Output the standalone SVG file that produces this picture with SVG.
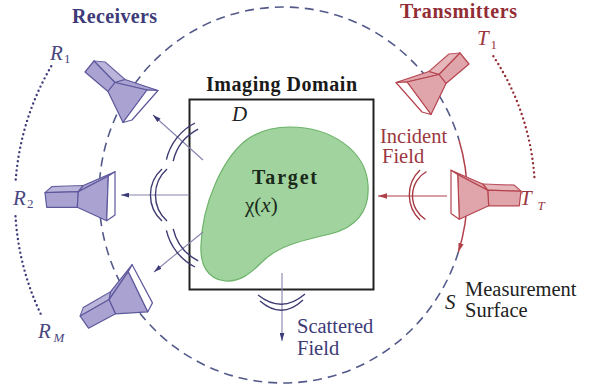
<svg xmlns="http://www.w3.org/2000/svg" xmlns:xlink="http://www.w3.org/1999/xlink" width="589" height="389" viewBox="0 0 589 389" font-family="'Liberation Serif', 'Times New Roman', serif">
  <style>
    text { font-family: "Liberation Serif", "Times New Roman", serif; }
    .title { font-weight: bold; font-size: 20px; }
    .body { font-size: 20.5px; }
    .it { font-style: italic; font-size: 21px; }
    .sub { font-size: 13px; }
    .rx { fill: #3d3b78; }
    .rl { fill: #4a4880; }
    .tx { fill: #922d34; }
    .tl { fill: #9b3840; }
    .ink { fill: #222; }
    .horn-r { fill: #aaa3d2; stroke: #5d589b; stroke-width: 1.2; stroke-linejoin: round; }
    .horn-t { fill: #e0a5aa; stroke: #b5444f; stroke-width: 1.2; stroke-linejoin: round; }
    .surface { fill: none; stroke: #535a8a; stroke-width: 1.6; stroke-dasharray: 9 6; }
    .dots-r { fill: none; stroke: #3d3b78; stroke-width: 2.4; stroke-linecap: round; stroke-dasharray: 0 4.6; }
    .dots-t { fill: none; stroke: #922d34; stroke-width: 2.4; stroke-linecap: round; stroke-dasharray: 0 4.6; }
    .wave { fill: none; stroke: #3d3b70; stroke-width: 1.4; }
    .wave-t { fill: none; stroke: #a83a44; stroke-width: 1.4; }
    .ray { fill: none; stroke: #8583ae; stroke-width: 1.1; }
    .ray-t { fill: none; stroke: #b0404a; stroke-width: 1.2; }
  </style>
  <defs>
    <marker id="ah" viewBox="0 0 10 6" refX="10" refY="3" markerWidth="8" markerHeight="5" markerUnits="userSpaceOnUse" orient="auto">
      <path d="M0,0 L10,3 L0,6 z" fill="#3d3b78"/>
    </marker>
    <marker id="ah-t" viewBox="0 0 10 6" refX="10" refY="3" markerWidth="9" markerHeight="6" markerUnits="userSpaceOnUse" orient="auto">
      <path d="M0,0 L10,3 L0,6 z" fill="#b0404a"/>
    </marker>
    <!-- pyramidal horn, oblique view (feed upper-left, aperture lower-right) -->
    <g id="hornA">
      <polygon points="94,61 105,62 125,79.5 115,82.5"/>
      <polygon points="94,61 105,62 125,79.5 115,82.5" fill="#fff" fill-opacity="0.2" stroke="none"/>
      <polygon points="85,72 94,61 115,82.5 108,91.5"/>
      <polygon points="115,82.5 125,79.5 158,90.5 147,90"/>
      <polygon points="108,91.5 115,82.5 147,90 123,122.5"/>
      <polygon points="147,90 158,90.5 132,120 123,122.5" fill="#fff"/>
    </g>
    <!-- pyramidal horn, side view (feed left, aperture right) -->
    <g id="hornB">
      <polygon points="45,192.7 51.7,186.7 83.3,185.5 78.3,191.7"/>
      <polygon points="45,192.7 51.7,186.7 83.3,185.5 78.3,191.7" fill="#fff" fill-opacity="0.2" stroke="none"/>
      <polygon points="45,192.7 78.3,191.7 77.3,207.3 46.7,207.3"/>
      <polygon points="78.3,191.7 83.3,185.5 115,171.7 108.3,176"/>
      <polygon points="78.3,191.7 108.3,176 106.7,220.7 77.3,207.3"/>
      <polygon points="108.3,176 115,171.7 115,215 106.7,220.7" fill="#fff"/>
    </g>
  </defs>

  <rect width="589" height="389" fill="#fff"/>

  <!-- measurement surface S -->
  <g id="surface">
    <path class="surface" d="M458.4,252 A184,188 0 1,1 459,140"/>
  </g>

  <!-- receiver / transmitter arrays -->
  <g id="arrays">
    <path class="dots-r" d="M51.2,66.3 A265,265 0 0,0 15.6,181.5"/>
    <path class="dots-r" d="M15.5,216.2 A265,265 0 0,0 41.8,316.2"/>
    <path class="dots-t" d="M493.4,56.3 A252,252 0 0,1 534.4,177"/>
  </g>

  <!-- imaging domain D -->
  <g id="domain">
    <rect x="189.5" y="99.5" width="184" height="190" fill="none" stroke="#222" stroke-width="2"/>
    <text class="title" x="206" y="91" textLength="151" fill="#1a1a1a">Imaging Domain</text>
    <text class="it ink" x="232" y="121">D</text>
  </g>

  <!-- scatterer -->
  <g id="target">
    <path d="M290,127 C330,127 366,150 368,185 C370,212 355,228 330,234 C300,241 278,246 262,262 C250,274 240,282 225,281 C207,279 200,264 201,245 C202,205 222,160 245,141 C258,131 272,127 290,127 Z" fill="#a0d39d" stroke="#6db36a" stroke-width="1.2"/>
    <text class="title" x="252" y="184" textLength="65" fill="#1a2a1a">Target</text>
    <text x="245" y="212" font-size="21" fill="#1a2a1a">χ(<tspan font-style="italic">x</tspan>)</text>
  </g>

  <!-- field propagation -->
  <g id="connectors">
    <path class="ray" d="M203,160 L153,115" marker-end="url(#ah)"/>
    <path class="ray" d="M189,195 L121,195" marker-end="url(#ah)"/>
    <path class="ray" d="M203,232 L154,272" marker-end="url(#ah)"/>
    <path class="ray" d="M282,273 L282,341" marker-end="url(#ah)"/>
    <path class="wave" d="M166.4,159.6 A55,55 0 0,1 195,123"/>
    <path class="wave" d="M173.2,161.2 A48,48 0 0,1 198.2,129.2"/>
    <path class="wave" d="M162,169 A35,35 0 0,0 162,221"/>
    <path class="wave" d="M167,169 A35,35 0 0,0 167,221"/>
    <path class="wave" d="M166.4,230.4 A55,55 0 0,0 195,267"/>
    <path class="wave" d="M173.2,228.8 A48,48 0 0,0 198.2,260.8"/>
    <path class="wave" d="M258,295 Q282,314 305,294"/>
    <path class="wave" d="M260,301 Q282,320 303,300"/>
    <path class="ray-t" d="M447,196 L378,196" marker-end="url(#ah-t)"/>
    <path class="wave-t" d="M420,170 A34.6,34.6 0 0,0 420,220"/>
    <path class="wave-t" d="M426.5,171.5 A28.1,28.1 0 0,0 425.5,219.5"/>
    <path d="M459,140 A184,188 0 0,1 458.4,252" fill="none" stroke="#b0404a" stroke-width="1.5" marker-end="url(#ah-t)"/>
  </g>

  <!-- receivers -->
  <g id="R1">
    <use xlink:href="#hornA" class="horn-r"/>
    <text class="it rl" x="50" y="60">R</text>
    <text class="sub rl" x="64" y="63">1</text>
  </g>
  <g id="R2">
    <use xlink:href="#hornB" class="horn-r"/>
    <text class="it rl" x="13" y="205">R</text>
    <text class="sub rl" x="27" y="208">2</text>
  </g>
  <g id="RM">
    <use xlink:href="#hornB" class="horn-r" transform="translate(140,288) rotate(-28) translate(-111,-196)"/>
    <text class="it rl" x="38" y="338">R</text>
    <text class="sub rl" x="53.5" y="341.5" font-style="italic">M</text>
  </g>

  <!-- transmitters -->
  <g id="T1">
    <use xlink:href="#hornA" class="horn-t" transform="matrix(-1 0 0 1 554 -8)"/>
    <text class="it tl" x="477" y="45">T</text>
    <text class="sub tl" x="490.5" y="49">1</text>
  </g>
  <g id="TT">
    <use xlink:href="#hornB" class="horn-t" transform="matrix(-1 0 0 1 566 -1.5)"/>
    <text class="it tl" x="520" y="205">T</text>
    <text class="sub tl" x="537.5" y="210" font-style="italic">T</text>
  </g>

  <!-- labels -->
  <g id="labels">
    <text class="title rx" x="72" y="23" textLength="85">Receivers</text>
    <text class="title tx" x="400" y="18" textLength="117">Transmitters</text>
    <text class="body tl" x="380" y="143">Incident</text>
    <text class="body tl" x="382" y="163">Field</text>
    <text class="body rx" x="297" y="333">Scattered</text>
    <text class="body rx" x="297" y="355">Field</text>
    <text class="it ink" x="445" y="309">S</text>
    <text class="body ink" x="465" y="296">Measurement</text>
    <text class="body ink" x="465" y="317">Surface</text>
  </g>
</svg>
